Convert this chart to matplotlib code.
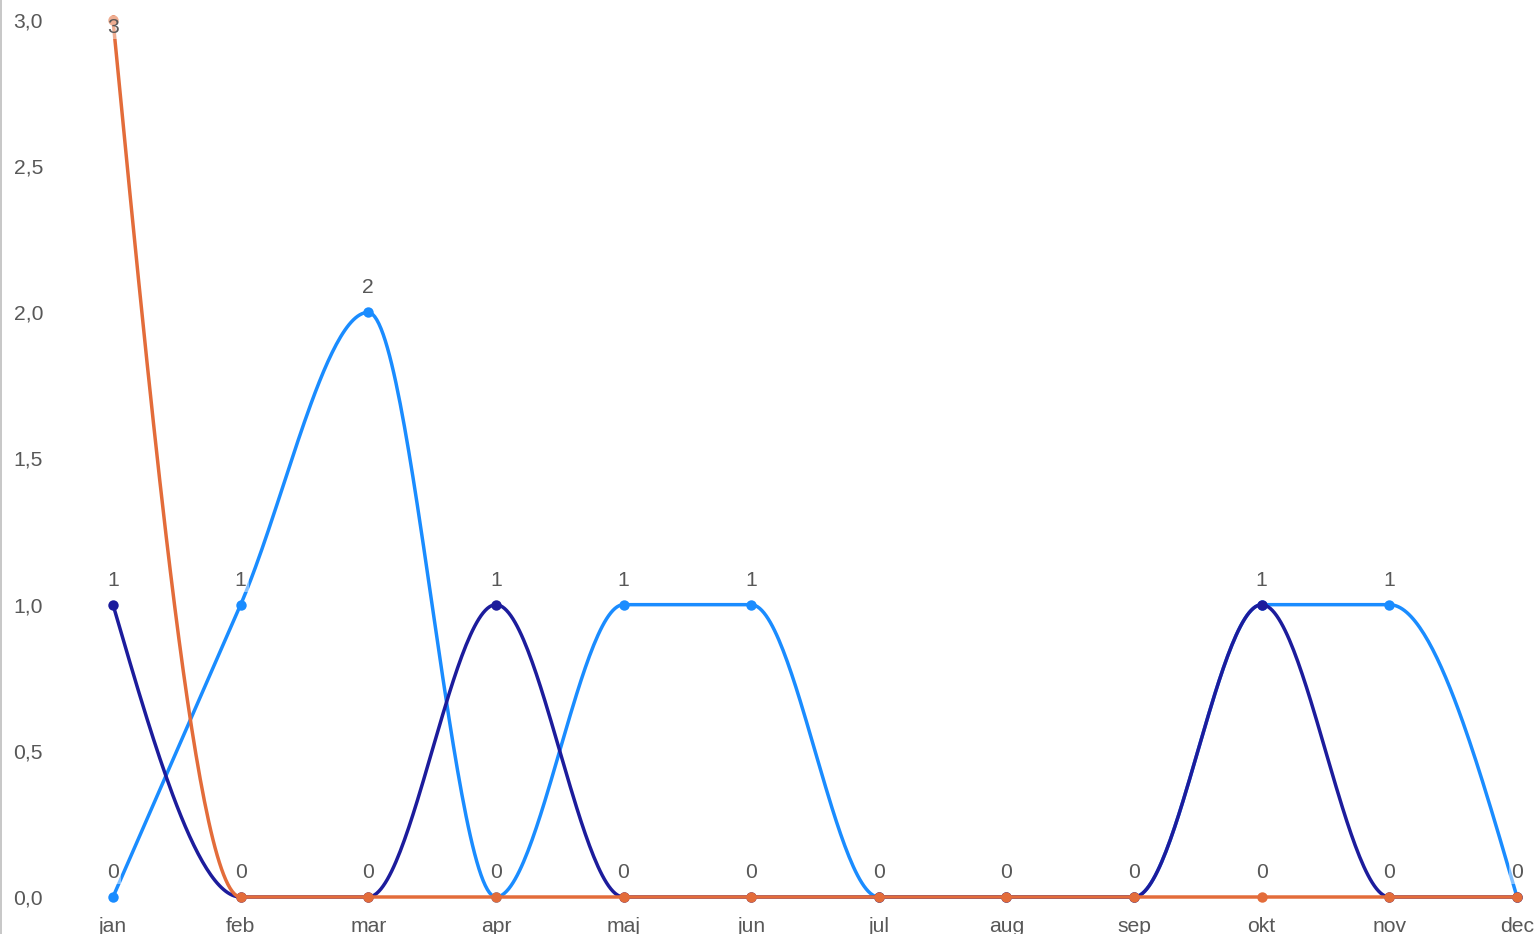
import numpy as np
import matplotlib
matplotlib.use("Agg")
import matplotlib.pyplot as plt
from matplotlib.lines import Line2D
from matplotlib.transforms import blended_transform_factory, ScaledTranslation

months = ["jan", "feb", "mar", "apr", "maj", "jun", "jul", "aug", "sep", "okt", "nov", "dec"]
series_lightblue = [0, 1, 2, 0, 1, 1, 0, 0, 0, 1, 1, 0]
series_navy = [1, 0, 0, 1, 0, 0, 0, 0, 0, 1, 0, 0]
series_orange = [3, 0, 0, 0, 0, 0, 0, 0, 0, 0, 0, 0]
y_ticks = [0.0, 0.5, 1.0, 1.5, 2.0, 2.5, 3.0]

colors = ["#1a8cff", "#1c1c9c", "#e36c3a"]
label_color = "#585858"
FONT = "Liberation Sans"
FS = 15.2


def monotone_tangents(y):
    y = np.asarray(y, float)
    n = len(y)
    s = np.diff(y)  # h = 1
    t = np.zeros(n)
    for i in range(1, n - 1):
        s0, s1 = s[i - 1], s[i]
        p = (s0 + s1) / 2
        t[i] = (np.sign(s0) + np.sign(s1)) * min(abs(s0), abs(s1), 0.5 * abs(p))
    t[0] = (3 * s[0] - t[1]) / 2 if n > 2 else s[0]
    t[-1] = (3 * s[-1] - t[-2]) / 2 if n > 2 else s[-1]
    return t


def monotone_curve(y, per=60):
    y = np.asarray(y, float)
    t = monotone_tangents(y)
    xs, ys = [], []
    for i in range(len(y) - 1):
        u = np.linspace(0, 1, per, endpoint=(i == len(y) - 2))
        h00 = 2 * u**3 - 3 * u**2 + 1
        h10 = u**3 - 2 * u**2 + u
        h01 = -2 * u**3 + 3 * u**2
        h11 = u**3 - u**2
        xs.append(i + u)
        ys.append(h00 * y[i] + h10 * t[i] + h01 * y[i + 1] + h11 * t[i + 1])
    return np.concatenate(xs), np.concatenate(ys)


W, H = 1536, 934
fig = plt.figure(figsize=(W / 100, H / 100), dpi=100)
ax = fig.add_axes([0, 0, 1, 1])
ax.set_facecolor("white")

x0_px, x11_px = 113, 1517
step = (x11_px - x0_px) / 11
ax.set_xlim(-x0_px / step, 11 + (W - x11_px) / step)
y0_px, y3_px = 897, 20  # from top
ypu = (y0_px - y3_px) / 3
ax.set_ylim(-(H - y0_px) / ypu, 3 + y3_px / ypu)
ytop = 3 + y3_px / ypu

for s in ax.spines.values():
    s.set_visible(False)
ax.set_xticks([])
ax.set_yticks(y_ticks)
ax.set_yticklabels([f"{v:.1f}".replace(".", ",") for v in y_ticks],
                   fontsize=FS, color=label_color, family=FONT)
ax.tick_params(axis="y", length=0, pad=-31)

x = np.arange(len(months))
all_series = [series_lightblue, series_navy, series_orange]
for k, (ser, c) in enumerate(zip(all_series, colors)):
    cx, cy = monotone_curve(ser)
    ax.plot(cx, cy, color=c, lw=2.5, zorder=2 + k, solid_capstyle="round")
    ax.plot(x, ser, "o", color=c, ms=7.5, zorder=2 + k, mec="none")

# data labels (kept inside the plot: flipped below the point near the top)
drawn = set()
for ser in all_series:
    for xi, v in zip(x, ser):
        if (xi, v) in drawn:
            continue
        drawn.add((xi, v))
        px_from_top = (ytop - v) * ypu
        dy = 19 if px_from_top - 19 - 16 > 0 else -13
        off = ScaledTranslation(0, dy / 100, fig.dpi_scale_trans)
        ax.text(xi, v, f"{v}", transform=ax.transData + off, ha="center", va="baseline",
                fontsize=FS, color=label_color, family=FONT, zorder=10,
                bbox=dict(facecolor="white", alpha=0.45, edgecolor="none", pad=1.5))

# month labels
btr = blended_transform_factory(ax.transData, fig.transFigure)
for xi, m in zip(x, months):
    ax.text(xi, (H - 932) / H, m, transform=btr, ha="center", va="baseline",
            fontsize=FS, color=label_color, family=FONT, clip_on=False)

fig.add_artist(Line2D([1 / W, 1 / W], [0, 1], color="#bdbdbd", lw=1.2))

fig.savefig("out.png", dpi=100, facecolor="white")
